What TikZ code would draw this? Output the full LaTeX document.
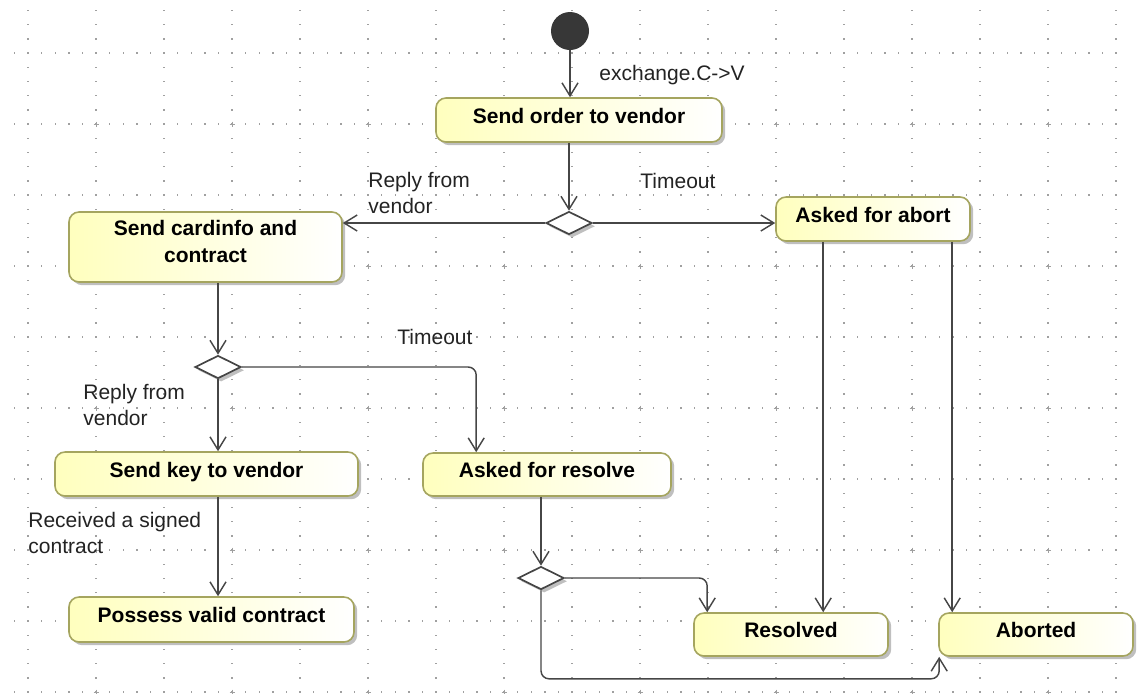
\documentclass[tikz,border=0pt]{standalone}
\usepackage{fontspec}
\setmainfont{Liberation Sans}
\usetikzlibrary{arrows.meta,shapes.geometric,shadows}
\definecolor{boxline}{RGB}{165,165,95}
\definecolor{boxfill}{RGB}{255,255,190}
\definecolor{conncol}{RGB}{70,70,70}
\definecolor{gridcol}{RGB}{160,160,160}
\definecolor{labcol}{RGB}{35,35,35}
\definecolor{initcol}{RGB}{55,55,55}
\tikzset{
  shd/.style={drop shadow={shadow xshift=1.6pt, shadow yshift=-1.6pt, fill=black, opacity=0.25}},
  act/.style={draw=boxline, line width=0.8pt, rounded corners=5pt,
    left color=boxfill, right color=white, shd, inner sep=0pt,
    font=\fontsize{10.5pt}{13pt}\selectfont\bfseries},
  oneline/.style={text height=7.6pt, text depth=4.6pt},
  boxtxt/.style={font=\fontsize{10.5pt}{13.3pt}\selectfont\bfseries, inner sep=0pt, align=center},
  dec/.style={shape=diamond, draw=conncol, line width=0.85pt, fill=white,
    minimum width=23pt, minimum height=11.5pt, inner sep=0pt, shd},
  conn/.style={draw=conncol, line width=0.72pt, -{Straight Barb[length=6.5pt,width=8pt]}},
  lab/.style={font=\fontsize{10.5pt}{13pt}\selectfont, text=labcol, inner sep=0pt, align=left},
}
\begin{document}
\begin{tikzpicture}[x=0.5pt, y=-0.5pt]
\fill[white] (0,0) rectangle (1139,693);
\useasboundingbox (0,0) rectangle (1139,693);
% grid
\foreach \k in {0,...,9} {
  \foreach \j in {-1,...,79} {
    \fill[gridcol] ({28+13.6*\j-0.7},{53+71*\k-0.7}) rectangle ++(1.4,1.4);
  }
}
\foreach \c in {0,...,16} {
  \foreach \i in {-3,...,45} {
    \fill[gridcol] ({28+68*\c-0.7},{53+14.2*\i-0.7}) rectangle ++(1.4,1.4);
  }
}
\foreach \c in {1,3,...,15} {
  \foreach \r in {1,3,5,7,9} {
    \draw[gridcol, line width=0.5pt] ({28+68*\c-2.5},{53+71*\r}) -- ++(5,0)
      ({28+68*\c},{53+71*\r-2.5}) -- ++(0,5);
  }
}
% nodes
\node[circle, fill=initcol, minimum size=19pt, inner sep=0pt] (init) at (570,31) {};
\node[act, oneline, minimum width=143pt, minimum height=22pt] (order) at (579,120) {Send order to vendor};
\node[dec] (d1) at (569,223) {};
\node[act, minimum width=136.5pt, minimum height=35pt] (card) at (205.5,247) {};
\node[boxtxt] (cardtxt) at ([yshift=2.75pt]card.center) {Send cardinfo and\\contract};
\node[act, oneline, minimum width=97pt, minimum height=22pt] (abort) at (873,219) {Asked for abort};
\node[dec] (d2) at (218,367) {};
\node[act, oneline, minimum width=151.5pt, minimum height=22pt] (sendkey) at (206.5,474) {Send key to vendor};
\node[act, oneline, minimum width=142.5pt, minimum height=22.5pt] (possess) at (211.5,619.5) {Possess valid contract};
\node[act, oneline, minimum width=124pt, minimum height=21.5pt] (resolve) at (547,474.5) {Asked for resolve};
\node[dec] (d3) at (541,578) {};
\node[act, oneline, minimum width=97pt, minimum height=21.5pt] (resolved) at (791,634.5) {Resolved};
\node[act, oneline, minimum width=97pt, minimum height=21.5pt] (aborted) at (1036,634.5) {Aborted};
% labels
\node[lab, anchor=base west] (lex) at (599,80) {exchange.C->V};
\node[lab, anchor=base west] (lt1) at (640,188) {Timeout};
\node[lab, anchor=north west] (lr1) at (368,172) {Reply from\\vendor};
\node[lab, anchor=base west] (lt2) at (397,344) {Timeout};
\node[lab, anchor=north west] (lr2) at (83,384) {Reply from\\vendor};
\node[lab, anchor=north west] (lrc) at (28,512) {Received a signed\\contract};
% connectors
\coordinate (abortL) at ([xshift=24pt]abort.south west);
\coordinate (abortR) at ([xshift=88.5pt]abort.south west);
\coordinate (resIn) at ([xshift=27pt]resolve.north west);
\coordinate (rsdIn) at ([xshift=7pt]resolved.north west);
\coordinate (abdIn) at ([xshift=0.5pt]aborted.south west);
\coordinate (low) at ([yshift=-11pt]abdIn);
\draw[conn] (init.south) -- (init.south |- order.north);
\draw[conn] (d1.north |- order.south) -- (d1.north);
\draw[conn] (d1.west) -- (d1.west -| card.east);
\draw[conn] (d1.east) -- (d1.east -| abort.west);
\draw[conn] (d2.north |- card.south) -- (d2.north);
\draw[conn] (d2.south) -- (d2.south |- sendkey.north);
\draw[conn, rounded corners=4pt] (d2.east) -| (resIn);
\draw[conn] (d2.south |- sendkey.south) -- (d2.south |- possess.north);
\draw[conn] (d3.north |- resolve.south) -- (d3.north);
\draw[conn, rounded corners=4pt] (d3.east) -| (rsdIn);
\draw[conn, rounded corners=4pt] (d3.south) |- (low) -- (abdIn);
\draw[conn] (abortL) -- (abortL |- resolved.north);
\draw[conn] (abortR) -- (abortR |- aborted.north);
\end{tikzpicture}
\end{document}
